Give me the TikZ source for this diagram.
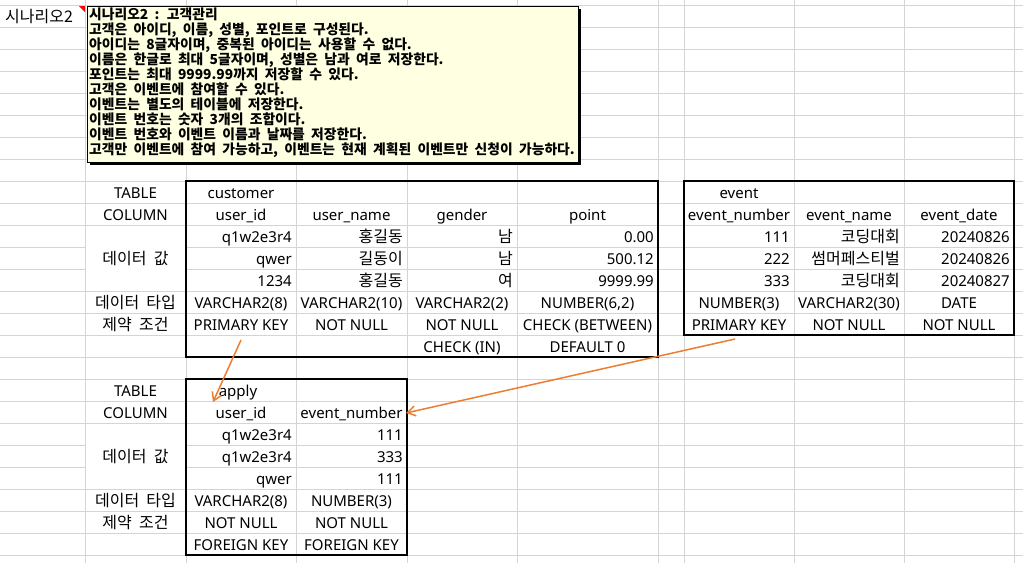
\documentclass[tikz,border=0pt]{standalone}
\usepackage{fontspec}
\setmainfont{Noto Sans}
\newfontfamily\kofont{Noto Sans CJK KR}
\newfontfamily\notefont{Noto Sans CJK KR}[WordSpace=2]
\usetikzlibrary{arrows.meta}

\definecolor{gridgray}{HTML}{D4D4D4}
\definecolor{notebg}{HTML}{FFFFE1}
\definecolor{linkorange}{HTML}{ED7D31}
\newcommand{\cellsize}{\fontsize{15}{17}\selectfont}
\newcommand{\krsize}{\fontsize{16}{18}\selectfont}

\begin{document}
\begin{tikzpicture}[x=1pt, y=-1pt,
  cell/.style={inner sep=0, anchor=base, font=\cellsize},
  rcell/.style={cell, anchor=base east},
  kr/.style={font=\kofont\krsize},
  tbl/.style={draw=black, line width=2pt},
  note/.style={anchor=north west, inner sep=0, align=left,
    font=\notefont\bfseries\fontsize{13.8}{15}\selectfont},
  link/.style={draw=linkorange, line width=1.5pt, -{Straight Barb[length=8pt,width=10pt]}}]

  \useasboundingbox[fill=white] (0,0) rectangle (1023,563);

  %grid
  \foreach \x in {85,186,296,407,517,658,684,794,904,1014}
    \draw[gridgray, line width=1pt] (\x,0) -- (\x,563);
  \foreach \r in {0,...,25}
    \draw[gridgray, line width=1pt] (0,5+22*\r) -- (1023,5+22*\r);

  % merged cells
  \fill[white] (85.5,225.5) rectangle (185.5,290.5);
  \fill[white] (85.5,423.5) rectangle (185.5,488.5);

  % tables
  \draw[tbl] (186,181) rectangle (658,357);
  \draw[tbl] (684,181) rectangle (1014,335);
  \draw[tbl] (186,379) rectangle (407,555);

  % row labels
  \foreach \y/\t [count=\i] in {198/TABLE, 220/COLUMN, 396/TABLE, 418/COLUMN}
    \node[cell] (lbl\i) at (135.5,\y) {\t};
  \foreach \y/\t [count=\i] in {264/데이터 값, 308/데이터 타입, 330/제약 조건,
                                462/데이터 값, 506/데이터 타입, 528/제약 조건}
    \node[cell, kr] (klbl\i) at (135.5,\y) {\t};

  % customer
  \node[cell] (cu-name) at (241,198) {customer};
  \foreach \x/\t [count=\i] in {241/user\_id, 351.5/user\_name, 462/gender, 587.5/point}
    \node[cell] (cu-col\i) at (\x,220) {\t};
  \foreach \a/\b/\c/\d [count=\i] in {q1w2e3r4/홍길동/남/0.00, qwer/길동이/남/500.12,
                                     1234/홍길동/여/9999.99} {
    \node[rcell] (cu-a\i) at (292,220+22*\i) {\a};
    \node[rcell, kr] (cu-b\i) at (403,220+22*\i) {\b};
    \node[rcell, kr] (cu-c\i) at (513,220+22*\i) {\c};
    \node[rcell] (cu-d\i) at (654,220+22*\i) {\d};
  }
  \foreach \x/\t [count=\i] in {241/VARCHAR2(8), 351.5/VARCHAR2(10), 462/VARCHAR2(2), 587.5/{NUMBER(6,2)}}
    \node[cell] (cu-type\i) at (\x,308) {\t};
  \foreach \x/\t [count=\i] in {241/PRIMARY KEY, 351.5/NOT NULL, 462/NOT NULL, 587.5/CHECK (BETWEEN)}
    \node[cell] (cu-key\i) at (\x,330) {\t};
  \node[cell] (cu-chk) at (462,352) {CHECK (IN)};
  \node[cell] (cu-def) at (587.5,352) {DEFAULT 0};

  % event
  \node[cell] (ev-name) at (739,198) {event};
  \foreach \x/\t [count=\i] in {739/event\_number, 849/event\_name, 959/event\_date}
    \node[cell] (ev-col\i) at (\x,220) {\t};
  \foreach \a/\b/\c [count=\i] in {111/코딩대회/20240826, 222/썸머페스티벌/20240826,
                                 333/코딩대회/20240827} {
    \node[rcell] (ev-a\i) at (790,220+22*\i) {\a};
    \node[rcell, kr] (ev-b\i) at (900,220+22*\i) {\b};
    \node[rcell] (ev-c\i) at (1010,220+22*\i) {\c};
  }
  \foreach \x/\t [count=\i] in {739/NUMBER(3), 849/VARCHAR2(30), 959/DATE}
    \node[cell] (ev-type\i) at (\x,308) {\t};
  \foreach \x/\t [count=\i] in {739/PRIMARY KEY, 849/NOT NULL, 959/NOT NULL}
    \node[cell] (ev-key\i) at (\x,330) {\t};

  % apply
  \node[cell] (ap-name) at (238,396) {apply};
  \node[cell] (ap-col1) at (241,418) {user\_id};
  \node[cell] (ap-col2) at (351.5,418) {event\_number};
  \foreach \a/\b [count=\i] in {q1w2e3r4/111, q1w2e3r4/333, qwer/111} {
    \node[rcell] (ap-a\i) at (292,418+22*\i) {\a};
    \node[rcell] (ap-b\i) at (403,418+22*\i) {\b};
  }
  \foreach \y/\s/\t [count=\i] in {506/VARCHAR2(8)/NUMBER(3), 528/NOT NULL/NOT NULL,
                                   550/FOREIGN KEY/FOREIGN KEY} {
    \node[cell] (ap-x\i) at (241,\y) {\s};
    \node[cell] (ap-y\i) at (351.5,\y) {\t};
  }

  % links
  \coordinate (cu-tail) at (241,340);
  \coordinate (ap-head1) at (213,402);
  \coordinate (ev-tail) at (735,339);
  \coordinate (ap-head2) at (406,413);
  \draw[link] (cu-tail) -- (ap-head1);
  \draw[link] (ev-tail) -- (ap-head2);

  % sheet title and comment
  \node[cell, kr, anchor=base west] (title) at (5,22) {시나리오2};
  \fill[red] (79,6) -- (85,6) -- (85,12) -- cycle;
  \fill[black] (90,9) rectangle (581,165);
  \draw[fill=notebg, line width=1pt] (87,6) rectangle (578,162);
  \node[note] (memo) at (89,8) {시나리오2 : 고객관리\\
    고객은 아이디, 이름, 성별, 포인트로 구성된다.\\
    아이디는 8글자이며, 중복된 아이디는 사용할 수 없다.\\
    이름은 한글로 최대 5글자이며, 성별은 남과 여로 저장한다.\\
    포인트는 최대 9999.99까지 저장할 수 있다.\\
    고객은 이벤트에 참여할 수 있다.\\
    이벤트는 별도의 테이블에 저장한다.\\
    이벤트 번호는 숫자 3개의 조합이다.\\
    이벤트 번호와 이벤트 이름과 날짜를 저장한다.\\
    고객만 이벤트에 참여 가능하고, 이벤트는 현재 계획된 이벤트만 신청이 가능하다.};
\end{tikzpicture}
\end{document}
